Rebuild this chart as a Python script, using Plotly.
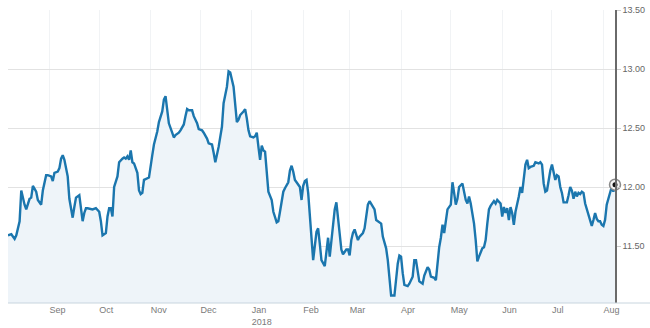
import pandas as pd
import plotly.graph_objects as go

start_date = "2017-08-07"
end_date = "2018-08-08"

day_offsets = [
    0, 2, 4, 5, 7, 8, 10, 11, 13, 14,
    15, 17, 18, 20, 21, 23, 24, 26, 27, 28,
    30, 31, 32, 33, 34, 36, 37, 39, 40, 41,
    43, 44, 45, 46, 47, 48, 50, 51, 53, 55,
    56, 57, 59, 60, 61, 62, 63, 64, 66, 67,
    69, 70, 71, 72, 73, 74, 75, 76, 78, 79,
    80, 81, 82, 84, 85, 87, 88, 90, 91, 93,
    94, 95, 96, 97, 99, 100, 101, 103, 104, 106,
    107, 108, 109, 111, 112, 114, 115, 117, 118, 120,
    121, 123, 124, 125, 127, 129, 130, 132, 133, 134,
    136, 137, 138, 139, 140, 142, 143, 144, 145, 146,
    148, 149, 150, 151, 152, 153, 154, 155, 156, 157,
    159, 160, 162, 163, 164, 166, 167, 169, 170, 171,
    172, 173, 174, 176, 177, 178, 179, 180, 181, 182,
    183, 184, 186, 187, 188, 189, 191, 192, 193, 194,
    195, 196, 197, 198, 199, 200, 201, 202, 204, 205,
    206, 207, 208, 209, 211, 212, 214, 215, 216, 217,
    218, 220, 221, 222, 224, 225, 226, 228, 229, 230,
    231, 233, 234, 235, 236, 237, 238, 239, 241, 242,
    244, 245, 246, 247, 248, 250, 251, 253, 254, 255,
    257, 258, 259, 260, 261, 262, 263, 264, 265, 267,
    268, 269, 270, 271, 272, 274, 275, 276, 277, 278,
    279, 281, 282, 283, 284, 286, 287, 288, 289, 290,
    291, 293, 294, 295, 297, 298, 299, 300, 301, 302,
    303, 304, 305, 306, 308, 309, 310, 311, 312, 313,
    314, 315, 317, 318, 320, 321, 322, 323, 324, 325,
    326, 327, 328, 329, 330, 331, 332, 333, 334, 335,
    337, 338, 339, 340, 341, 342, 343, 344, 345, 346,
    347, 348, 349, 350, 351, 352, 353, 354, 355, 356,
    357, 358, 359, 360, 361, 363, 364, 365, 366,
]

prices = [
    11.59, 11.60, 11.56, 11.59, 11.71, 11.97, 11.85, 11.81, 11.90, 11.91,
    12.01, 11.96, 11.89, 11.85, 11.97, 12.10, 12.10, 12.09, 12.05, 12.12,
    12.13, 12.16, 12.24, 12.27, 12.23, 12.09, 11.90, 11.74, 11.83, 11.91,
    11.93, 11.83, 11.71, 11.78, 11.82, 11.82, 11.81, 11.81, 11.82, 11.79,
    11.71, 11.59, 11.61, 11.75, 11.82, 11.82, 11.75, 12.00, 12.09, 12.21,
    12.24, 12.25, 12.24, 12.26, 12.23, 12.31, 12.21, 12.20, 12.12, 11.97,
    11.94, 11.95, 12.06, 12.07, 12.08, 12.27, 12.36, 12.47, 12.55, 12.64,
    12.74, 12.77, 12.67, 12.54, 12.46, 12.42, 12.44, 12.46, 12.48, 12.53,
    12.60, 12.66, 12.65, 12.65, 12.60, 12.54, 12.49, 12.48, 12.46, 12.41,
    12.37, 12.36, 12.29, 12.21, 12.34, 12.51, 12.71, 12.85, 12.98, 12.97,
    12.85, 12.68, 12.55, 12.57, 12.61, 12.64, 12.66, 12.58, 12.48, 12.43,
    12.42, 12.43, 12.46, 12.34, 12.23, 12.35, 12.31, 12.30, 12.14, 11.96,
    11.89, 11.79, 11.70, 11.71, 11.79, 11.96, 11.99, 12.04, 12.14, 12.18,
    12.13, 12.06, 12.04, 12.00, 11.89, 12.01, 12.05, 12.06, 11.95, 11.78,
    11.55, 11.38, 11.62, 11.65, 11.52, 11.38, 11.33, 11.45, 11.57, 11.41,
    11.55, 11.72, 11.81, 11.87, 11.75, 11.58, 11.47, 11.43, 11.47, 11.47,
    11.42, 11.55, 11.61, 11.64, 11.55, 11.58, 11.61, 11.65, 11.76, 11.85,
    11.88, 11.83, 11.81, 11.72, 11.70, 11.69, 11.58, 11.48, 11.38, 11.21,
    11.08, 11.08, 11.21, 11.35, 11.42, 11.41, 11.27, 11.17, 11.16, 11.18,
    11.24, 11.38, 11.38, 11.28, 11.20, 11.18, 11.25, 11.32, 11.30, 11.24,
    11.23, 11.21, 11.38, 11.49, 11.57, 11.68, 11.61, 11.72, 11.81, 11.85,
    12.04, 11.95, 11.85, 11.90, 12.00, 12.03, 11.97, 11.89, 11.86, 11.92,
    11.86, 11.69, 11.55, 11.37, 11.41, 11.48, 11.49, 11.55, 11.69, 11.81,
    11.84, 11.88, 11.86, 11.89, 11.86, 11.75, 11.83, 11.78, 11.82, 11.72,
    11.83, 11.78, 11.68, 11.79, 11.92, 12.00, 11.95, 12.09, 12.19, 12.23,
    12.16, 12.17, 12.18, 12.21, 12.20, 12.21, 12.19, 12.03, 11.96, 11.97,
    12.06, 12.14, 12.19, 12.12, 12.06, 12.10, 12.09, 12.00, 11.95, 11.87,
    11.87, 11.93, 12.00, 11.97, 11.90, 11.96, 11.92, 11.95, 11.94, 11.96,
    11.95, 11.86, 11.81, 11.76, 11.71, 11.67, 11.72, 11.78, 11.73, 11.71,
    11.71, 11.68, 11.67, 11.72, 11.85, 11.95, 12.00, 11.96, 12.02,
]

if len(day_offsets) != len(prices):
    raise ValueError(f"length mismatch {len(day_offsets)} vs {len(prices)}")

month_ticks = ["2017-09-01", "2017-10-01", "2017-11-01", "2017-12-01",
               "2018-01-01", "2018-02-01", "2018-03-01", "2018-04-01",
               "2018-05-01", "2018-06-01", "2018-07-01", "2018-08-01"]
month_labels = ["Sep", "Oct", "Nov", "Dec", "Jan<br>2018", "Feb", "Mar",
                "Apr", "May", "Jun", "Jul", "Aug"]

y_ticks = [11.5, 12.0, 12.5, 13.0, 13.5]
y_min, y_max = 11.017, 13.5

dates = pd.Timestamp(start_date) + pd.to_timedelta(day_offsets, unit="D")

line_color = "#1b76ae"

fig = go.Figure()
fig.add_trace(go.Scatter(
    x=dates, y=prices, mode="lines",
    line=dict(color=line_color, width=2.4, shape="linear"),
    fill="tozeroy", fillcolor="#eef4f9",
    hoverinfo="skip",
))
fig.add_trace(go.Scatter(
    x=[dates[-1]], y=[prices[-1]], mode="markers",
    marker=dict(size=11, color="#f4f4f4", line=dict(color="#8a8a8a", width=1.5)),
    cliponaxis=False, hoverinfo="skip",
))
fig.add_trace(go.Scatter(
    x=[dates[-1]], y=[prices[-1]], mode="markers",
    marker=dict(size=5, color="#111111"),
    cliponaxis=False, hoverinfo="skip",
))

fig.update_layout(
    width=650, height=328,
    margin=dict(l=8, r=35, t=10, b=25, autoexpand=False),
    paper_bgcolor="white", plot_bgcolor="white",
    showlegend=False,
    font=dict(family="Liberation Sans, Arial, sans-serif"),
    xaxis=dict(
        type="date",
        range=[start_date, end_date],
        tickmode="array", tickvals=month_ticks, ticktext=month_labels,
        ticklabelposition="outside right",
        ticks="", showline=False, zeroline=False,
        showgrid=True, gridcolor="#f1f3f5", gridwidth=1,
        tickfont=dict(size=9, color="#7a7a7a"),
        automargin=False,
        fixedrange=True,
    ),
    yaxis=dict(
        side="right",
        range=[y_min, y_max],
        tickmode="array", tickvals=y_ticks, tickformat=".2f",
        showgrid=True, gridcolor="#e2e2e2", gridwidth=1,
        showline=True, linecolor="#6a6a6a", linewidth=1.5,
        ticks="outside", ticklen=4, tickcolor="#cccccc",
        zeroline=False,
        tickfont=dict(size=9, color="#666666"),
        automargin=False,
        fixedrange=True,
    ),
    shapes=[dict(
        type="line", xref="paper", yref="paper",
        x0=0, x1=1.058, y0=0, y1=0,
        line=dict(color="#c8d5de", width=1),
        layer="above",
    )],
)

fig.write_html("out.html")
